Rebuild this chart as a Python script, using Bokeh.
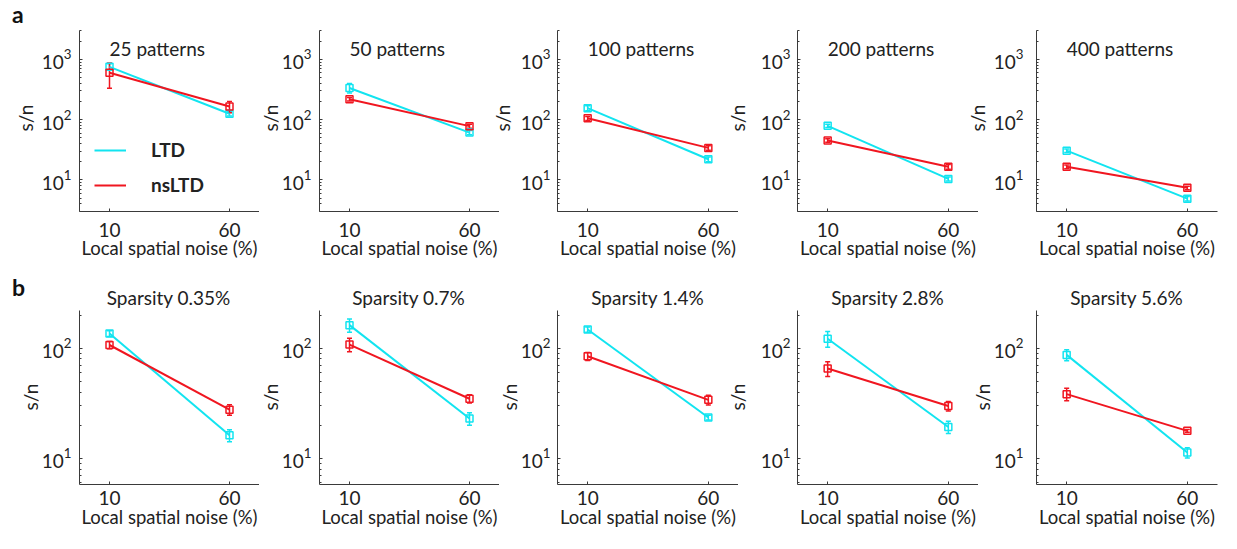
from bokeh.plotting import figure
from bokeh.layouts import column, row
from bokeh.models import (ColumnDataSource, Range1d, FixedTicker, LogTickFormatter,
                          Label, Legend, LegendItem, Whisker, TeeHead, Div)
from bokeh.embed import file_html
from bokeh.resources import INLINE

# ---------------- data ----------------
noise = [10, 60]
noise_ticks = [10, 60]

titles_a = ["25 patterns", "50 patterns", "100 patterns", "200 patterns", "400 patterns"]
ltd_a = [[750, 125], [335, 61], [155, 22], [79, 10.4], [30.6, 4.9]]
ltd_a_err = [[90, 10], [60, 5], [15, 2], [5, 0.8], [2, 0.4]]
nsltd_a = [[600, 165], [218, 78], [105, 34], [45, 16.5], [16.5, 7.4]]
nsltd_a_err = [[270, 35], [15, 6], [8, 3], [3, 1.5], [1.2, 0.5]]

titles_b = ["Sparsity 0.35%", "Sparsity 0.7%", "Sparsity 1.4%", "Sparsity 2.8%", "Sparsity 5.6%"]
ltd_b = [[136, 16.2], [162, 23], [148, 23.5], [122, 19.3], [87, 11.3]]
ltd_b_err = [[8, 2], [22, 3], [8, 1.2], [20, 2.5], [10, 1.2]]
nsltd_b = [[107, 27.7], [108, 34.8], [84.5, 34], [65.5, 29.9], [38.3, 17.8]]
nsltd_b_err = [[8, 3], [15, 3], [7, 3.5], [10, 3], [5, 0.5]]

series_names = ["LTD", "nsLTD"]
panel_letters = ["a", "b"]
x_label = "Local spatial noise (%)"
y_label = "s/n"
yrange_a = (3, 3000)
yrange_b = (5.8, 220)
yticks_a = [10, 100, 1000]
yticks_b = [10, 100]
xrange_all = (-2.5, 72.5)


def minor_ticks(lo, hi):
    out = []
    for d in (1, 10, 100, 1000):
        for m in range(2, 10):
            v = m * d
            if lo <= v <= hi:
                out.append(v)
    return out


# ---------------- style / layout ----------------
FONT = "Lato"
FS = "19px"
FS_X = "18.5px"
TXT = "#222222"
AX = "#3a3a3a"
C_LTD = "#12e4f0"
C_NS = "#f01620"

TOTAL_W = 1221
FW = 181
FRAME_LEFTS = [78, 318, 557, 797, 1036]
LBS = [40, 40, 40, 40, 46]           # left border of each figure
RIGHTS = [0, 0, 0, 0, 4]
DIV_W = [38, 31, 30, 31, 24]         # spacer columns holding the y labels
DIV_ML = [0, -12, -12, -12, -12]     # they may reach a little over the previous frame
YSTANDOFF = [8, 8, 7, 7, 13]

H_A, TOP_A, FH_A = 268, 30, 181
BAND_H = 40
H_B, TOP_B, FH_B = 225, 2, 174

SN_X_A = [25, 23, 14.5, 11, 11]      # s/n centres inside spacer columns
SN_X_B = [30, 23, 22, 11, 16]
SN_Y_A = TOP_A + FH_A / 2 - 3
SN_Y_B = TOP_B + FH_B / 2


def panel(col, title, ltd, ltd_err, ns, ns_err, yr, yt, fh, top, height, row_id):
    w = LBS[col] + FW + RIGHTS[col]
    p = figure(width=w, height=height, y_axis_type="log", output_backend="svg",
               toolbar_location=None, x_range=Range1d(*xrange_all), y_range=Range1d(*yr),
               min_border_left=LBS[col], min_border_right=RIGHTS[col],
               min_border_top=top, min_border_bottom=height - top - fh)
    p.outline_line_color = None
    p.grid.visible = False
    p.background_fill_color = "white"
    p.border_fill_color = "white"

    p.xaxis.ticker = FixedTicker(ticks=noise_ticks, minor_ticks=[])
    p.yaxis.ticker = FixedTicker(ticks=yt, minor_ticks=minor_ticks(*yr))
    p.yaxis.formatter = LogTickFormatter()
    for ax in (p.xaxis[0], p.yaxis[0]):
        ax.axis_line_color = AX
        ax.axis_line_width = 1
        ax.major_tick_line_color = AX
        ax.minor_tick_line_color = AX
        ax.major_tick_in = 3
        ax.major_tick_out = 0
        ax.minor_tick_in = 2
        ax.minor_tick_out = 0
        ax.major_label_text_font = FONT
        ax.major_label_text_font_size = FS
        ax.major_label_text_color = TXT
    p.yaxis.major_label_standoff = YSTANDOFF[col]
    p.xaxis.axis_label = x_label
    p.xaxis.axis_label_text_font = FONT
    p.xaxis.axis_label_text_font_size = FS_X
    p.xaxis.axis_label_text_font_style = "normal"
    p.xaxis.axis_label_text_color = TXT
    if row_id == "a":
        p.xaxis.major_label_standoff = 11
        p.xaxis.axis_label_standoff = -3
    else:
        p.xaxis.major_label_standoff = 6
        p.xaxis.axis_label_standoff = -2

    rends = []
    for vals, errs, c in ((ltd, ltd_err, C_LTD), (ns, ns_err, C_NS)):
        src = ColumnDataSource(dict(x=noise, y=vals,
                                    upper=[v + e for v, e in zip(vals, errs)],
                                    lower=[v - e for v, e in zip(vals, errs)]))
        r = p.line("x", "y", source=src, line_color=c, line_width=2)
        rends.append(r)
        p.add_layout(Whisker(source=src, base="x", upper="upper", lower="lower",
                             line_color=c, line_width=1.5,
                             upper_head=TeeHead(size=5, line_color=c, line_width=1.5),
                             lower_head=TeeHead(size=5, line_color=c, line_width=1.5)))
        p.scatter("x", "y", source=src, marker="square", size=7, fill_color=None,
                  line_color=c, line_width=1.5)

    if row_id == "a":
        p.add_layout(Label(x=noise[0], y=fh - 18, y_units="screen", text=title,
                           text_align="left", text_baseline="alphabetic",
                           text_font=FONT, text_font_size=FS, text_color=TXT))
    return p, rends


BASE_CSS = "position:absolute;white-space:nowrap;line-height:1;font-family:Lato;color:%s;" % TXT


def sn_html(cx, cy):
    return ('<div style="%sleft:%.1fpx;top:%.1fpx;font-size:%s;'
            'transform:translate(-50%%,-50%%) rotate(-90deg);">%s</div>'
            % (BASE_CSS, cx, cy, FS, y_label))


def letter_html(letter, left, top):
    return ('<div style="%sleft:%dpx;top:%dpx;font-size:23px;line-height:0.6;'
            'font-weight:bold;color:#111111;">%s</div>' % (BASE_CSS, left, top, letter))


def box(width, height, inner, ml=0):
    html = ('<div style="position:relative;width:%dpx;height:%dpx;overflow:visible;">%s</div>'
            % (width, height, inner))
    return Div(text=html, width=width, height=height, margin=(0, 0, 0, ml),
               styles={"overflow": "visible", "background": "transparent"})


row_a_items, row_b_items = [], []
legend_rends = None
for i in range(5):
    p, rends = panel(i, titles_a[i], ltd_a[i], ltd_a_err[i], nsltd_a[i], nsltd_a_err[i],
                     yrange_a, yticks_a, FH_A, TOP_A, H_A, "a")
    if i == 0:
        legend_rends = rends
    inner = sn_html(SN_X_A[i], SN_Y_A)
    if i == 0:
        inner = letter_html(panel_letters[0], 12, 8) + inner
    row_a_items += [box(DIV_W[i], H_A, inner, DIV_ML[i]), p]

    pb, _ = panel(i, titles_b[i], ltd_b[i], ltd_b_err[i], nsltd_b[i], nsltd_b_err[i],
                  yrange_b, yticks_b, FH_B, TOP_B, H_B, "b")
    row_b_items += [box(DIV_W[i], H_B, sn_html(SN_X_B[i], SN_Y_B), DIV_ML[i]), pb]

leg = Legend(items=[LegendItem(label=series_names[0], renderers=[legend_rends[0]]),
                    LegendItem(label=series_names[1], renderers=[legend_rends[1]])],
             location=(15, 15), glyph_width=32, glyph_height=20, label_height=20,
             label_standoff=25, spacing=12, padding=0, margin=0,
             border_line_alpha=0, background_fill_alpha=0,
             label_text_font=FONT, label_text_font_style="bold", label_text_font_size=FS,
             label_text_color=TXT)
row_a_items[1].add_layout(leg)

# band with the titles of row b
band_inner = letter_html(panel_letters[1], 12, 13)
for i in range(5):
    cx = FRAME_LEFTS[i] + FW / 2
    band_inner += ('<div style="%sleft:%.1fpx;top:19.5px;font-size:%s;transform:translateX(-50%%);">%s</div>'
                   % (BASE_CSS, cx, FS, titles_b[i]))
band = box(TOTAL_W, BAND_H, band_inner)

layout = column(row(*row_a_items), band, row(*row_b_items))
open("out.html", "w").write(file_html(layout, INLINE))
